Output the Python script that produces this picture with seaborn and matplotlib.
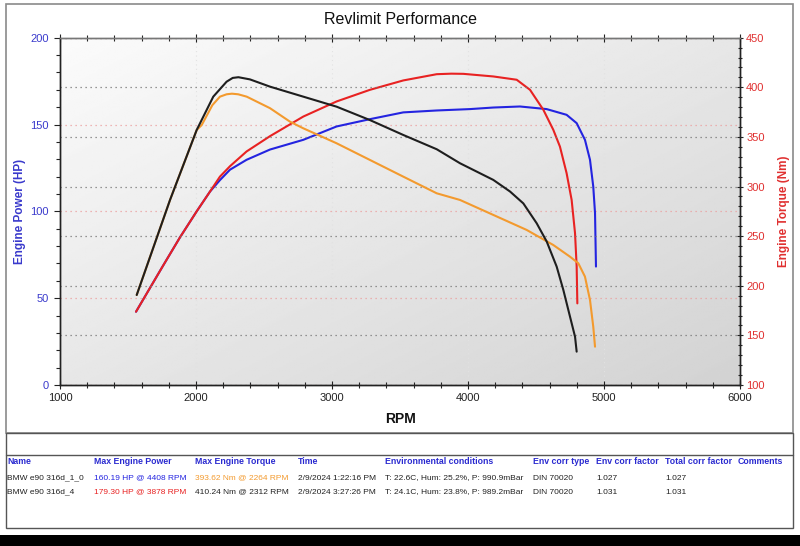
import numpy as np
import pandas as pd
import matplotlib.pyplot as plt
import seaborn as sns
from matplotlib.patches import Rectangle
from matplotlib.lines import Line2D
from matplotlib.ticker import MultipleLocator

# power curves (HP)
rpm_p1 = [1559, 1760, 1882, 2005, 2103, 2176, 2250, 2372, 2544, 2789, 3034, 3279, 3524, 3770,
          4015, 4186, 4382, 4578, 4725, 4799, 4860, 4897, 4921, 4934, 4941]
hp_p1 = [42.2, 69, 85, 100, 111.4, 118, 124, 129.7, 135.6, 141.2, 148.9, 153.1, 157, 158.1,
         158.9, 159.8, 160.4, 158.9, 155.6, 150.8, 141.2, 129.7, 114.3, 99, 68.2]

rpm_p4 = [1559, 1760, 1882, 2005, 2103, 2176, 2250, 2372, 2544, 2789, 3034, 3279, 3524, 3770,
          3878, 3966, 4186, 4358, 4456, 4554, 4627, 4676, 4725, 4762, 4787, 4799, 4804]
hp_p4 = [42.2, 69, 85, 100, 111.4, 120, 126, 134.5, 143.3, 154.6, 163.3, 170, 175.4, 179,
         179.3, 179.2, 177.7, 175.8, 170, 158.5, 147, 137.3, 122, 106.6, 87.4, 68.2, 47]

# torque curves (Nm)
rpm_t1 = [1564, 1809, 2005, 2042, 2120, 2176, 2225, 2264, 2310, 2373, 2544, 2691, 2789, 3034, 3279,
          3524, 3770, 3941, 4186, 4431, 4627, 4750, 4811, 4860, 4897, 4921, 4934]
nm_t1 = [190.7, 286.5, 357, 362, 382, 390.6, 393, 393.6, 393, 390.6, 379, 365.4, 358.7, 343.6, 326.8,
         310, 293.2, 286.5, 271.4, 256.3, 241.1, 229.3, 222.7, 209.2, 185.7, 158.8, 138.6]

rpm_t4 = [1564, 1809, 2005, 2127, 2225, 2270, 2312, 2397, 2544, 2789, 3034, 3279, 3524, 3770, 3941,
          4186, 4309, 4407, 4505, 4579, 4652, 4701, 4750, 4787, 4799]
nm_t4 = [190.7, 286.5, 357, 390.6, 405.7, 409.5, 410.2, 408, 400.7, 390.6, 380.5, 367, 352, 337.6, 323.5,
         306.7, 295, 283, 263, 244.5, 219.3, 195.8, 168.9, 148.7, 133.6]

# summary table
headers = ['Name', 'Max Engine Power', 'Max Engine Torque', 'Time', 'Environmental conditions',
           'Env corr type', 'Env corr factor', 'Total corr factor', 'Comments']
row1 = ['BMW e90 316d_1_0', '160.19 HP @ 4408 RPM', '393.62 Nm @ 2264 RPM', '2/9/2024 1:22:16 PM',
        'T: 22.6C, Hum: 25.2%, P: 990.9mBar', 'DIN 70020', '1.027', '1.027', '']
row2 = ['BMW e90 316d_4', '179.30 HP @ 3878 RPM', '410.24 Nm @ 2312 RPM', '2/9/2024 3:27:26 PM',
        'T: 24.1C, Hum: 23.8%, P: 989.2mBar', 'DIN 70020', '1.031', '1.031', '']
col_px = [7, 94, 195, 298, 385, 533, 596, 665, 738]

BLUE = '#2424e0'
RED = '#e82222'
ORANGE = '#f39a2e'
BLACK = '#1e1e1e'
TXT_BLUE = '#3a3acc'
TXT_RED = '#e03030'

sns.set_style('ticks')
plt.rcParams['font.family'] = ['Liberation Sans', 'DejaVu Sans']

W, H = 800, 546
fig = plt.figure(figsize=(8, 5.46), dpi=100)
ax = fig.add_axes([0.075, 0.2949, 0.85, 0.636])
ax2 = ax.twinx()

# gradient background, light top-left to grey bottom-right
gx, gy = np.meshgrid(np.linspace(0, 1, 200), np.linspace(0, 1, 200))
grad = 0.985 - 0.16 * (gx + gy) / 2
ax.imshow(grad, extent=[1000, 6000, 0, 200], aspect='auto', cmap='gray',
          vmin=0, vmax=1, zorder=0, origin='upper')

df_p1 = pd.DataFrame({'rpm': rpm_p1, 'val': hp_p1})
df_p4 = pd.DataFrame({'rpm': rpm_p4, 'val': hp_p4})
df_t1 = pd.DataFrame({'rpm': rpm_t1, 'val': nm_t1})
df_t4 = pd.DataFrame({'rpm': rpm_t4, 'val': nm_t4})

sns.lineplot(data=df_p1, x='rpm', y='val', ax=ax, color=BLUE, lw=1.5, sort=False, estimator=None, zorder=3)
sns.lineplot(data=df_p4, x='rpm', y='val', ax=ax, color=RED, lw=1.5, sort=False, estimator=None, zorder=4)
sns.lineplot(data=df_t1, x='rpm', y='val', ax=ax2, color=ORANGE, lw=1.5, sort=False, estimator=None, zorder=3)
sns.lineplot(data=df_t4, x='rpm', y='val', ax=ax2, color=BLACK, lw=1.5, sort=False, estimator=None, zorder=4)

ax.set_xlim(1000, 6000)
ax.set_ylim(0, 200)
ax2.set_ylim(100, 450)

ax.xaxis.set_major_locator(MultipleLocator(1000))
ax.xaxis.set_minor_locator(MultipleLocator(200))
ax.yaxis.set_major_locator(MultipleLocator(50))
ax.yaxis.set_minor_locator(MultipleLocator(10))
ax2.yaxis.set_major_locator(MultipleLocator(50))
ax2.yaxis.set_minor_locator(MultipleLocator(10))

ax.grid(axis='y', which='major', color='#eba0a0', linestyle=(0, (1, 3)), lw=0.9)
ax.grid(axis='x', which='major', color='#e2e2e2', linestyle=(0, (1, 3)), lw=0.8)
ax2.grid(axis='y', which='major', color='#777777', linestyle=(0, (1, 3)), lw=0.9)
ax2.set_axisbelow(True)

ax.tick_params(axis='x', which='major', direction='inout', length=6, width=0.8,
               colors='#222222', labelsize=8, top=True, labeltop=False, pad=3)
ax.tick_params(axis='x', which='minor', direction='inout', length=4, width=0.8, top=True)
ax.tick_params(axis='y', which='major', direction='out', length=4, width=0.8,
               labelcolor=TXT_BLUE, color='#222222', labelsize=8, pad=4)
ax.tick_params(axis='y', which='minor', direction='out', length=3, width=0.8, color='#222222')
ax2.tick_params(axis='y', which='major', direction='inout', length=5, width=0.8,
                labelcolor=TXT_RED, color='#222222', labelsize=8, pad=2)
ax2.tick_params(axis='y', which='minor', direction='inout', length=3.5, width=0.8, color='#222222')

for a in (ax, ax2):
    for s in a.spines.values():
        s.set_linewidth(1.0)
        s.set_color('#222222')
    a.spines['top'].set_color('#777777')

ax.set_xlabel('RPM', fontsize=10, fontweight='bold', color='#111111', labelpad=6)
ax.set_ylabel('Engine Power (HP)', fontsize=8.5, fontweight='bold', color=TXT_BLUE, labelpad=3)
ax2.set_ylabel('Engine Torque (Nm)', fontsize=8.5, fontweight='bold', color=TXT_RED,
               rotation=90, labelpad=9.5)

fig.text(0.5, 1 - 20 / H, 'Revlimit Performance', ha='center', va='center', fontsize=11.5, color='#111111')

# frames
def frame(x0, y0, x1, y1, lw=1.0, color='#555555'):
    fig.add_artist(Rectangle((x0 / W, 1 - y1 / H), (x1 - x0) / W, (y1 - y0) / H,
                             transform=fig.transFigure, fill=False, lw=lw, ec=color))

frame(6, 4, 793, 433, lw=1.2, color='#8a8a8a')
frame(6, 433, 793, 528, lw=1.0, color='#555555')
fig.add_artist(Line2D([6 / W, 793 / W], [1 - 455 / H, 1 - 455 / H], transform=fig.transFigure,
                      lw=1.0, color='#555555'))
fig.add_artist(Rectangle((0, 0), 1, 11 / H, transform=fig.transFigure, fc='black', ec='none'))

# table text
for x, h in zip(col_px, headers):
    fig.text(x / W, 1 - 461 / H, h, fontsize=6.3, fontweight='bold', color='#2a2ad0', va='center')
row_colors = [['#222222', BLUE, ORANGE] + ['#222222'] * 6,
              ['#222222', RED, '#222222'] + ['#222222'] * 6]
for ypx, row, cols in zip([478, 492], [row1, row2], row_colors):
    for x, t, c in zip(col_px, row, cols):
        fig.text(x / W, 1 - ypx / H, t, fontsize=6.0, color=c, va='center')

fig.savefig('out.png', dpi=100)
